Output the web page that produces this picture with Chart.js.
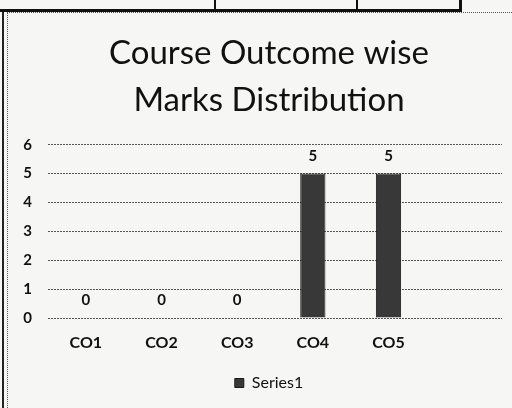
<!DOCTYPE html>
<html>
<head>
<meta charset="utf-8">
<script src="https://cdn.jsdelivr.net/npm/chart.js@4"></script>
<style>
  html, body { margin: 0; padding: 0; background: #f6f6f4; }
  #wrap { position: relative; width: 512px; height: 408px; overflow: hidden; background: #f6f6f4; }
  canvas { position: absolute; left: 0; top: 0; }
  .deco { position: absolute; }
</style>
</head>
<body>
<div id="wrap">
  <canvas id="c" width="512" height="408"></canvas>
  <div class="deco" style="left:0;top:9px;width:462px;height:3px;background:#111;"></div>
  <div class="deco" style="left:214px;top:0;width:2px;height:10px;background:#111;"></div>
  <div class="deco" style="left:356px;top:0;width:2px;height:10px;background:#111;"></div>
  <div class="deco" style="left:459px;top:0;width:3px;height:12px;background:#111;"></div>
  <div class="deco" style="left:7px;top:12px;width:505px;height:0;border-top:1px dotted #555;"></div>
  <div class="deco" style="left:2px;top:12px;width:2px;height:396px;background:#222;"></div>
  <div class="deco" style="left:7px;top:12px;width:0;height:396px;border-left:1px dotted #555;"></div>
</div>
<script>
const categories = ['CO1', 'CO2', 'CO3', 'CO4', 'CO5', ''];
const series1 = [0, 0, 0, 5, 5, null];
const yTicks = [0, 1, 2, 3, 4, 5, 6];
const titleLines = ['Course Outcome wise', 'Marks Distribution'];
const seriesName = 'Series1';

const FONT = 'Lato, "Liberation Sans", sans-serif';

const valueLabels = {
  id: 'valueLabels',
  afterLayout(chart) {
    // let the y tick labels use the room to the left of the narrow axis box
    chart.scales.y.left = 8;
  },
  afterDatasetsDraw(chart) {
    const ctx = chart.ctx;
    const meta = chart.getDatasetMeta(0);
    ctx.save();
    ctx.font = 'bold 15px ' + FONT;
    ctx.fillStyle = '#111';
    ctx.textAlign = 'center';
    ctx.textBaseline = 'alphabetic';
    meta.data.forEach((bar, i) => {
      const v = series1[i];
      if (v === null || v === undefined) return;
      ctx.fillText(String(v), bar.x, bar.y - 13);
    });
    ctx.restore();
  }
};

new Chart(document.getElementById('c'), {
  type: 'bar',
  data: {
    labels: categories,
    datasets: [{
      label: seriesName,
      data: series1,
      backgroundColor: '#383838',
      borderColor: '#1a1a1a',
      borderWidth: 1,
      barPercentage: 0.667,
      categoryPercentage: 0.5
    }]
  },
  options: {
    responsive: false,
    animation: false,
    layout: { padding: { left: 36, right: 10, top: 0, bottom: 7 } },
    plugins: {
      title: {
        display: true,
        text: titleLines,
        color: '#111',
        font: { family: FONT, size: 33, weight: 'normal', lineHeight: 1.42 },
        padding: { top: 30, bottom: 21 }
      },
      legend: {
        display: true,
        position: 'bottom',
        labels: {
          color: '#111',
          font: { family: FONT, size: 16 },
          boxWidth: 9,
          boxHeight: 9,
          padding: 14
        }
      },
      tooltip: { enabled: false }
    },
    scales: {
      x: {
        grid: { display: false },
        border: { display: false },
        ticks: { color: '#111', font: { family: FONT, size: 16, weight: 'bold' }, padding: 7 },
        afterFit(s) { s.height = 43; }
      },
      y: {
        min: 0,
        max: 6,
        afterBuildTicks(s) { s.ticks = yTicks.map(v => ({ value: v })); },
        grid: { color: '#555', lineWidth: 1, drawTicks: false },
        border: { display: false, dash: [2, 1] },
        ticks: { color: '#111', font: { family: FONT, size: 15, weight: 'bold' }, padding: 16 },
        afterFit(s) { s.width = 12; }
      }
    }
  },
  plugins: [valueLabels]
});
</script>
</body>
</html>
